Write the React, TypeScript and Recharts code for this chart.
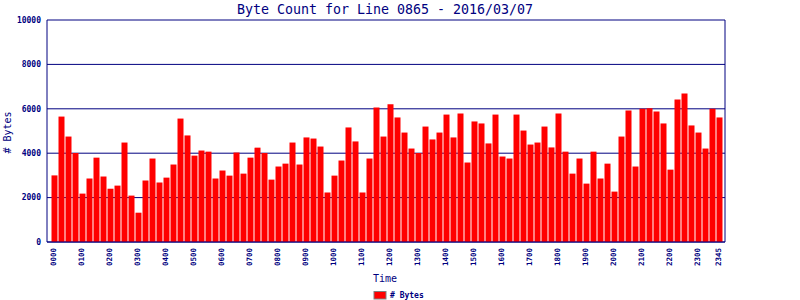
import { BarChart, Bar, XAxis, YAxis, CartesianGrid } from "recharts";

const NAVY = "#000080";
const MONO = "'DejaVu Sans Mono', monospace";

const HOURS = ["00", "01", "02", "03", "04", "05", "06", "07", "08", "09", "10", "11", "12", "13", "14", "15", "16", "17", "18", "19", "20", "21", "22", "23"];
const QUARTERS = ["00", "15", "30", "45"];
const TIMES = HOURS.flatMap((h) => QUARTERS.map((q) => h + q));

// bytes per 15 minute slot
const BYTES = [
  3000, 5650, 4750, 4010, 2180, 2860, 3800, 2950,
  2400, 2540, 4480, 2090, 1320, 2770, 3760, 2680,
  2900, 3490, 5560, 4800, 3890, 4120, 4070, 2860,
  3220, 2990, 4030, 3080, 3800, 4250, 4010, 2810,
  3400, 3530, 4480, 3490, 4710, 4660, 4300, 2230,
  2990, 3670, 5160, 4530, 2230, 3760, 6060, 4750,
  6200, 5610, 4930, 4210, 4010, 5200, 4620, 4930,
  5740, 4710, 5790, 3580, 5430, 5340, 4440, 5740,
  3850, 3760, 5740, 5020, 4390, 4480, 5200, 4260,
  5790, 4070, 3080, 3760, 2630, 4070, 2860, 3530,
  2270, 4750, 5920, 3400, 6000, 6020, 5880, 5340,
  3260, 6420, 6690, 5250, 4930, 4210, 6000, 5610,
];

const Y_TICKS = [0, 2000, 4000, 6000, 8000, 10000];

const data = TIMES.map((t, i) => ({ time: t, bytes: BYTES[i] }));

function XTick(props: any) {
  const { x, y, payload } = props;
  const label: string = payload.value;
  if (!label.endsWith("00") && label !== "2345") return <g />;
  return (
    <text
      x={0}
      y={0}
      transform={`translate(${x - 0.5},${y + 6}) rotate(-90)`}
      textAnchor="end"
      dominantBaseline="central"
      fontFamily={MONO}
      fontSize={7.5}
      fontWeight="bold"
      fill={NAVY}
    >
      {label}
    </text>
  );
}

export default function App() {
  return (
    <div style={{ position: "absolute", left: 0, top: 0, width: 800, height: 300, background: "#fff" }}>
      <BarChart
        width={800}
        height={300}
        data={data}
        margin={{ top: 20, right: 0, bottom: 0, left: 0 }}
        barSize={6}
      >
        <CartesianGrid vertical={false} stroke={NAVY} strokeWidth={1} />
        <XAxis
          dataKey="time"
          height={58}
          interval={0}
          padding={{ left: 3.5, right: 2.5 }}
          axisLine={{ stroke: NAVY }}
          tickLine={false}
          tickSize={0}
          tickMargin={0}
          tick={<XTick />}
        />
        <YAxis
          width={47}
          domain={[0, 10000]}
          ticks={Y_TICKS}
          interval={0}
          axisLine={{ stroke: NAVY }}
          tickLine={false}
          tickSize={0}
          tickMargin={6}
          tick={{ fill: NAVY, fontFamily: MONO, fontSize: 8, fontWeight: "bold" }}
        />
        <YAxis
          yAxisId="right"
          orientation="right"
          width={75}
          domain={[0, 10000]}
          axisLine={{ stroke: NAVY }}
          tickLine={false}
          tick={false}
        />
        <Bar dataKey="bytes" fill="#ff0000" isAnimationActive={false} />
        <text x={385} y={13.5} textAnchor="middle" fontFamily={MONO} fontSize={13.3} fill={NAVY}>
          Byte Count for Line 0865 - 2016/03/07
        </text>
        <text
          x={0}
          y={0}
          transform="translate(7.5,132.5) rotate(-90)"
          textAnchor="middle"
          dominantBaseline="central"
          fontFamily={MONO}
          fontSize={10}
          fill={NAVY}
        >
          # Bytes
        </text>
        <text x={385} y={282} textAnchor="middle" fontFamily={MONO} fontSize={10} fill={NAVY}>
          Time
        </text>
        <rect x={374} y={291.5} width={12} height={7.5} fill="#ff0000" stroke="#808080" strokeWidth={1} />
        <text x={390} y={297.5} fontFamily={MONO} fontSize={8} fontWeight="bold" fill={NAVY}>
          # Bytes
        </text>
      </BarChart>
    </div>
  );
}
